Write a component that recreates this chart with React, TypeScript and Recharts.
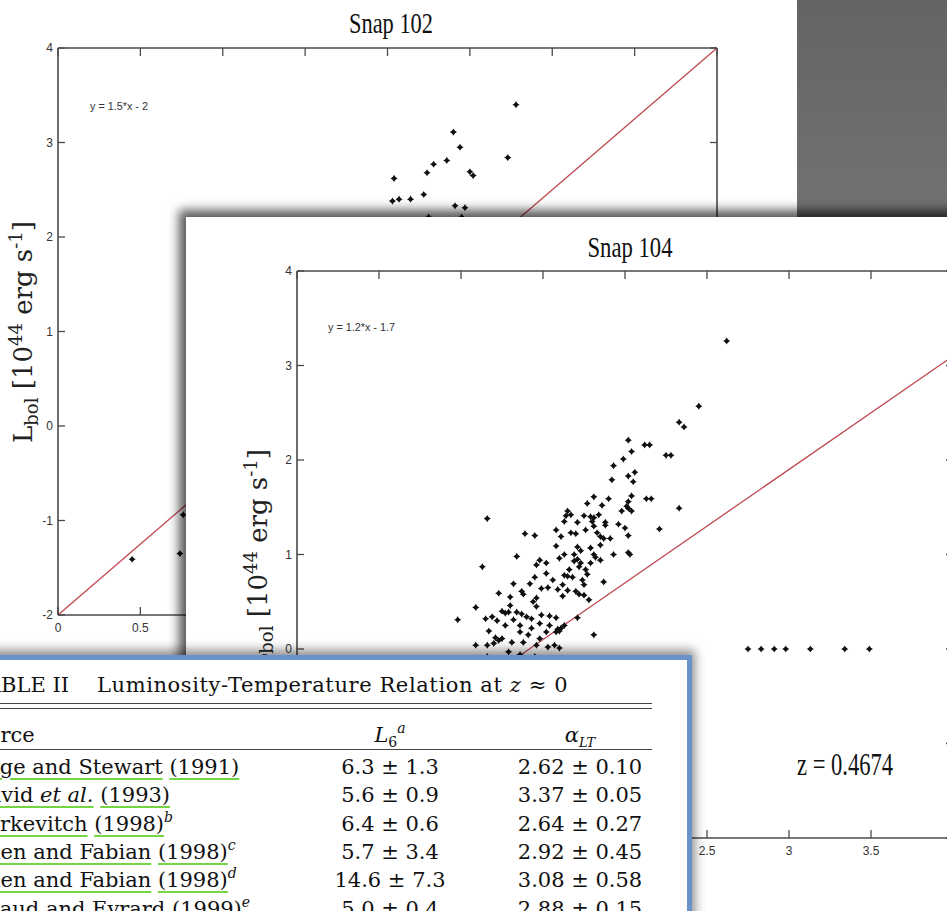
import React from 'react';
import { ScatterChart, Scatter, XAxis, YAxis, ReferenceLine } from 'recharts';

// ---------- data ----------
const xTicks = [0, 0.5, 1, 1.5, 2, 2.5, 3, 3.5, 4];
const yTicks = [-2, -1, 0, 1, 2, 3, 4];
const xDomain = [0, 4];
const yDomain = [-2, 4];

const snap102Points = [
  { x: 2.04, y: 2.62 }, { x: 2.03, y: 2.38 }, { x: 2.07, y: 2.4 }, { x: 2.14, y: 2.4 },
  { x: 2.22, y: 2.45 }, { x: 2.24, y: 2.68 }, { x: 2.28, y: 2.77 }, { x: 2.36, y: 2.81 },
  { x: 2.4, y: 3.11 }, { x: 2.44, y: 2.95 }, { x: 2.5, y: 2.69 }, { x: 2.52, y: 2.65 },
  { x: 2.41, y: 2.33 }, { x: 2.47, y: 2.31 }, { x: 2.73, y: 2.84 }, { x: 2.78, y: 3.4 },
  { x: 2.25, y: 2.21 }, { x: 2.45, y: 2.21 },
  { x: 0.45, y: -1.41 }, { x: 0.74, y: -1.35 }, { x: 0.76, y: -0.94 },
];

const snap104Points = [
  { x: 1.16, y: 1.38 }, { x: 1.13, y: 0.87 }, { x: 0.98, y: 0.31 }, { x: 1.09, y: 0.44 },
  { x: 1.39, y: 1.22 }, { x: 1.45, y: 1.2 }, { x: 1.34, y: 0.98 }, { x: 1.58, y: 1.26 },
  { x: 1.58, y: 1.09 }, { x: 1.48, y: 0.94 }, { x: 1.46, y: 0.89 }, { x: 1.52, y: 0.91 },
  { x: 1.52, y: 0.8 }, { x: 1.23, y: 0.59 }, { x: 1.32, y: 0.69 }, { x: 1.42, y: 0.69 },
  { x: 1.45, y: 0.76 }, { x: 1.37, y: 0.61 }, { x: 1.38, y: 0.58 }, { x: 1.56, y: 0.73 },
  { x: 1.49, y: 0.64 }, { x: 1.53, y: 0.65 }, { x: 1.3, y: 0.55 }, { x: 1.3, y: 0.46 },
  { x: 1.46, y: 0.54 }, { x: 1.44, y: 0.5 }, { x: 1.46, y: 0.45 }, { x: 1.25, y: 0.4 },
  { x: 1.27, y: 0.38 }, { x: 1.29, y: 0.39 }, { x: 1.15, y: 0.32 }, { x: 1.19, y: 0.34 },
  { x: 1.22, y: 0.3 }, { x: 1.34, y: 0.39 }, { x: 1.37, y: 0.37 }, { x: 1.4, y: 0.34 },
  { x: 1.43, y: 0.32 }, { x: 1.49, y: 0.36 }, { x: 1.54, y: 0.35 }, { x: 1.58, y: 0.33 },
  { x: 1.32, y: 0.31 }, { x: 1.27, y: 0.25 }, { x: 1.17, y: 0.19 }, { x: 1.21, y: 0.12 },
  { x: 1.23, y: 0.09 }, { x: 1.25, y: 0.11 }, { x: 1.2, y: 0.06 }, { x: 1.16, y: 0.04 },
  { x: 1.09, y: 0.04 }, { x: 1.36, y: 0.25 }, { x: 1.36, y: 0.18 }, { x: 1.38, y: 0.07 },
  { x: 1.41, y: 0.15 }, { x: 1.43, y: 0.22 }, { x: 1.48, y: 0.27 }, { x: 1.52, y: 0.18 },
  { x: 1.48, y: 0.11 }, { x: 1.54, y: 0.25 }, { x: 1.58, y: 0.18 }, { x: 1.29, y: -0.03 },
  { x: 1.31, y: 0.07 }, { x: 1.46, y: 0.04 }, { x: 1.53, y: 0.02 }, { x: 1.57, y: 0.04 },
  { x: 1.16, y: -0.08 }, { x: 1.27, y: -0.1 }, { x: 1.36, y: -0.06 }, { x: 1.45, y: -0.08 },
  { x: 1.55, y: -0.1 },
  { x: 2.33, y: 2.4 }, { x: 2.36, y: 2.35 }, { x: 2.02, y: 2.21 }, { x: 2.12, y: 2.16 },
  { x: 2.15, y: 2.16 }, { x: 2.04, y: 2.09 }, { x: 2.25, y: 2.05 }, { x: 2.28, y: 2.05 },
  { x: 1.99, y: 2.01 }, { x: 1.93, y: 1.94 }, { x: 2.06, y: 1.87 }, { x: 2.02, y: 1.83 },
  { x: 1.92, y: 1.79 }, { x: 2.05, y: 1.77 }, { x: 2.04, y: 1.62 }, { x: 1.9, y: 1.59 },
  { x: 1.81, y: 1.61 }, { x: 2.13, y: 1.59 }, { x: 2.16, y: 1.59 }, { x: 1.77, y: 1.54 },
  { x: 2.02, y: 1.56 }, { x: 2.01, y: 1.51 }, { x: 2.02, y: 1.49 }, { x: 2.04, y: 1.46 },
  { x: 1.86, y: 1.52 }, { x: 1.98, y: 1.46 }, { x: 2.33, y: 1.49 }, { x: 1.65, y: 1.46 },
  { x: 1.67, y: 1.42 }, { x: 1.64, y: 1.41 }, { x: 1.75, y: 1.41 }, { x: 1.79, y: 1.4 },
  { x: 1.81, y: 1.39 }, { x: 1.84, y: 1.42 }, { x: 1.63, y: 1.35 }, { x: 1.71, y: 1.34 },
  { x: 1.8, y: 1.35 }, { x: 1.81, y: 1.3 }, { x: 1.88, y: 1.34 }, { x: 1.88, y: 1.31 },
  { x: 1.96, y: 1.32 }, { x: 2.0, y: 1.28 }, { x: 2.21, y: 1.27 }, { x: 1.76, y: 1.26 },
  { x: 1.61, y: 1.19 }, { x: 1.67, y: 1.23 }, { x: 1.7, y: 1.22 }, { x: 1.83, y: 1.23 },
  { x: 1.85, y: 1.19 }, { x: 1.87, y: 1.17 }, { x: 1.91, y: 1.17 }, { x: 2.02, y: 1.2 },
  { x: 1.71, y: 1.08 }, { x: 1.73, y: 1.04 }, { x: 1.63, y: 1.0 }, { x: 1.6, y: 0.96 },
  { x: 1.79, y: 1.07 }, { x: 1.85, y: 1.1 }, { x: 1.81, y: 1.0 }, { x: 1.82, y: 0.97 },
  { x: 1.93, y: 1.0 }, { x: 2.02, y: 1.02 }, { x: 2.03, y: 1.0 }, { x: 1.69, y: 1.0 },
  { x: 1.71, y: 0.95 }, { x: 1.69, y: 0.93 }, { x: 1.72, y: 0.87 }, { x: 1.73, y: 0.91 },
  { x: 1.85, y: 0.94 }, { x: 1.79, y: 0.91 }, { x: 1.76, y: 0.84 }, { x: 1.77, y: 0.79 },
  { x: 1.66, y: 0.84 }, { x: 1.63, y: 0.78 }, { x: 1.65, y: 0.77 }, { x: 1.68, y: 0.76 },
  { x: 1.74, y: 0.73 }, { x: 1.75, y: 0.68 }, { x: 1.62, y: 0.68 }, { x: 1.59, y: 0.63 },
  { x: 1.65, y: 0.62 }, { x: 1.87, y: 0.71 }, { x: 1.62, y: 0.56 }, { x: 1.7, y: 0.61 },
  { x: 1.72, y: 0.58 }, { x: 1.75, y: 0.57 }, { x: 1.78, y: 0.52 }, { x: 1.71, y: 0.33 },
  { x: 1.63, y: 0.25 }, { x: 1.61, y: 0.22 }, { x: 1.59, y: 0.21 }, { x: 1.6, y: 0.19 },
  { x: 1.81, y: 0.15 }, { x: 1.6, y: 0.01 },
  { x: 2.62, y: 3.26 }, { x: 2.45, y: 2.57 },
  { x: 2.75, y: 0.0 }, { x: 2.83, y: 0.0 }, { x: 2.91, y: 0.0 }, { x: 2.98, y: 0.0 },
  { x: 3.13, y: 0.0 }, { x: 3.34, y: 0.0 }, { x: 3.49, y: 0.0 },
];

// fitted lines (from the printed equations y = 1.5*x - 2 and y = 1.2*x - 1.7)
const fit102 = [{ x: 0, y: -2 }, { x: 4, y: 4 }];
const fit104 = [{ x: 0, y: -1.7 }, { x: 4, y: 3.1 }];

const tableSources = ['Edge and Stewart', 'David', 'Markevitch', 'Allen and Fabian', 'Allen and Fabian', 'Arnaud and Evrard'];
const tableYears = ['(1991)', '(1993)', '(1998)', '(1998)', '(1998)', '(1999)'];
const tableNotes = ['', '', 'b', 'c', 'd', 'e'];
const tableL6 = ['6.3 ± 1.3', '5.6 ± 0.9', '6.4 ± 0.6', '5.7 ± 3.4', '14.6 ± 7.3', '5.0 ± 0.4'];
const tableAlpha = ['2.62 ± 0.10', '3.37 ± 0.05', '2.64 ± 0.27', '2.92 ± 0.45', '3.08 ± 0.58', '2.88 ± 0.15'];

// ---------- styling ----------
const AX = '#4a4a4a';
const RED = '#c04852';
const TICK_LEN = 8;
const tickFont = { fontFamily: 'Liberation Sans, Arial, sans-serif', fontSize: 12, fill: '#333' };

const BottomTick = (p: any) => (
  <g>
    <line x1={p.x} y1={p.y} x2={p.x} y2={p.y - TICK_LEN} stroke={AX} strokeWidth={1.3} />
    <text x={p.x} y={p.y + 17} textAnchor="middle" {...tickFont}>{String(p.payload.value)}</text>
  </g>
);
const TopTick = (p: any) => (
  <line x1={p.x} y1={p.y} x2={p.x} y2={p.y + TICK_LEN} stroke={AX} strokeWidth={1.3} />
);
const LeftTick = (p: any) => (
  <g>
    <line x1={p.x} y1={p.y} x2={p.x + TICK_LEN - 1} y2={p.y} stroke={AX} strokeWidth={1.3} />
    <text x={p.x - 5} y={p.y + 4} textAnchor="end" {...tickFont}>{String(p.payload.value)}</text>
  </g>
);
const RightTick = (p: any) => (
  <line x1={p.x} y1={p.y} x2={p.x - TICK_LEN + 1} y2={p.y} stroke={AX} strokeWidth={1.3} />
);

const Star = (props: any) => {
  const { cx, cy } = props;
  if (cx == null || cy == null) return <g />;
  const r = 3.6;
  const s = 1.3;
  const d = `M${cx},${cy - r}L${cx + s},${cy - s}L${cx + r},${cy}L${cx + s},${cy + s}L${cx},${cy + r}L${cx - s},${cy + s}L${cx - r},${cy}L${cx - s},${cy - s}Z`;
  return (
    <g>
      <path d={d} fill="#111" />
      <circle cx={cx} cy={cy} r={2} fill="#111" />
    </g>
  );
};
const Nothing = () => <g />;

function SnapChart({ w, h, margin, points, fit }: any) {
  const axisLine = { stroke: AX, strokeWidth: 1.6 };
  return (
    <ScatterChart width={w} height={h} margin={margin}>
      <XAxis xAxisId="b" dataKey="x" type="number" domain={xDomain} ticks={xTicks} interval={0}
        orientation="bottom" height={30} tickSize={0} tickMargin={0} tickLine={false}
        axisLine={axisLine} tick={(p: any) => <BottomTick {...p} />} allowDataOverflow />
      <XAxis xAxisId="t" dataKey="x" type="number" domain={xDomain} ticks={xTicks} interval={0}
        orientation="top" height={1} tickSize={0} tickMargin={0} tickLine={false}
        axisLine={axisLine} tick={(p: any) => <TopTick {...p} />} allowDataOverflow />
      <YAxis yAxisId="l" dataKey="y" type="number" domain={yDomain} ticks={yTicks} interval={0}
        orientation="left" width={30} tickSize={0} tickMargin={0} tickLine={false}
        axisLine={axisLine} tick={(p: any) => <LeftTick {...p} />} allowDataOverflow />
      <YAxis yAxisId="r" dataKey="y" type="number" domain={yDomain} ticks={yTicks} interval={0}
        orientation="right" width={1} tickSize={0} tickMargin={0} tickLine={false}
        axisLine={axisLine} tick={(p: any) => <RightTick {...p} />} allowDataOverflow />
      <Scatter xAxisId="t" yAxisId="r" data={fit} shape={Nothing} isAnimationActive={false} />
      <ReferenceLine xAxisId="b" yAxisId="l" segment={fit} stroke={RED} strokeWidth={1.3} ifOverflow="visible" />
      <Scatter xAxisId="b" yAxisId="l" data={points} shape={Star} isAnimationActive={false} />
    </ScatterChart>
  );
}

function YLabel({ x, y }: { x: number; y: number }) {
  return (
    <text transform={`rotate(-90 ${x} ${y})`} x={x} y={y} textAnchor="middle"
      fontFamily="DejaVu Serif, serif" fontSize={26} fill="#222">
      L<tspan dy={6} fontSize={18}>bol</tspan>
      <tspan dy={-6}> [10</tspan>
      <tspan dy={-10} fontSize={18}>44</tspan>
      <tspan dy={10}> erg s</tspan>
      <tspan dy={-10} fontSize={18}>-1</tspan>
      <tspan dy={10}>]</tspan>
    </text>
  );
}

const serifTitle = { fontFamily: 'Liberation Serif, Times New Roman, serif', fill: '#111' };
const eqFont = { fontFamily: 'Liberation Sans, Arial, sans-serif', fontSize: 11, fill: '#333' };

const tableFont: React.CSSProperties = {
  fontFamily: 'DejaVu Serif, serif', fontSize: 21, color: '#111', whiteSpace: 'nowrap', lineHeight: '28px',
};
const link: React.CSSProperties = {
  textDecorationLine: 'underline', textDecorationColor: '#74d442', textDecorationThickness: '2px',
  textUnderlineOffset: '4px',
};
const supStyle: React.CSSProperties = { fontSize: 14, fontStyle: 'italic', position: 'relative', top: -9, lineHeight: 0 };
const subStyle: React.CSSProperties = { fontSize: 14, position: 'relative', top: 5, lineHeight: 0 };
const SOURCE_LEFT = [-29, -28, -34, -28, -28, -39];

export default function App() {
  return (
    <div style={{ position: 'absolute', left: 0, top: 0, width: 947, height: 911, overflow: 'hidden', background: '#fff' }}>
      {/* slide background block */}
      <div style={{ position: 'absolute', left: 797, top: 0, width: 150, height: 217, background: 'linear-gradient(#646464, #727272)', zIndex: 0 }} />

      {/* Snap 102 */}
      <div style={{ position: 'absolute', left: 0, top: 0, zIndex: 1 }}>
        <SnapChart w={790} h={680} margin={{ top: 47, right: 72, left: 28, bottom: 35 }} points={snap102Points} fit={fit102} />
        <svg width={790} height={680} style={{ position: 'absolute', left: 0, top: 0, pointerEvents: 'none' }}>
          <text x={391} y={33} textAnchor="middle" fontSize={29} textLength={84} lengthAdjust="spacingAndGlyphs" {...serifTitle}>Snap 102</text>
          <text x={90} y={110} textLength={58} lengthAdjust="spacingAndGlyphs" {...eqFont}>y = 1.5*x - 2</text>
          <YLabel x={32} y={332} />
        </svg>
      </div>

      {/* Snap 104 */}
      <div style={{ position: 'absolute', left: 186, top: 217, width: 820, height: 720, background: '#fff', zIndex: 2, boxShadow: '-4px -4px 10px 3px rgba(0,0,0,0.65)' }}>
        <SnapChart w={800} h={700} margin={{ top: 53, right: 32, left: 81, bottom: 49 }} points={snap104Points} fit={fit104} />
        <svg width={800} height={700} style={{ position: 'absolute', left: 0, top: 0, pointerEvents: 'none' }}>
          <text x={444} y={257 - 217} textAnchor="middle" fontSize={29} textLength={85} lengthAdjust="spacingAndGlyphs" {...serifTitle}>Snap 104</text>
          <text x={142} y={114} textLength={67} lengthAdjust="spacingAndGlyphs" {...eqFont}>y = 1.2*x - 1.7</text>
          <text x={659} y={558} textAnchor="middle" fontSize={31} textLength={96} lengthAdjust="spacingAndGlyphs" {...serifTitle}>z = 0.4674</text>
          <YLabel x={81} y={343} />
        </svg>
      </div>

      {/* Table */}
      <div style={{ position: 'absolute', left: -10, top: 655, width: 692, height: 300, background: '#fff', border: '5px solid #6a92c8', zIndex: 3, boxShadow: '0 -2px 10px 3px rgba(0,0,0,0.45)' }} />
      <div style={{ position: 'absolute', left: 0, top: 0, width: 947, height: 911, zIndex: 4, pointerEvents: 'none' }}>
        <div style={{ ...tableFont, position: 'absolute', left: -27, top: 671 }}>
          TABLE II<span style={{ marginLeft: 28, letterSpacing: 0.6 }}>Luminosity-Temperature Relation at <i>z</i> ≈ 0</span>
        </div>
        <div style={{ position: 'absolute', left: 0, top: 703, width: 652, height: 0, borderTop: '1.3px solid #444' }} />
        <div style={{ position: 'absolute', left: 0, top: 708, width: 652, height: 0, borderTop: '1.3px solid #444' }} />
        <div style={{ ...tableFont, position: 'absolute', left: -40, top: 721 }}>Source</div>
        <div style={{ ...tableFont, position: 'absolute', left: 318, width: 144, textAlign: 'center', top: 721 }}>
          <i>L</i><span style={subStyle}>6</span><span style={supStyle}>a</span>
        </div>
        <div style={{ ...tableFont, position: 'absolute', left: 508, width: 144, textAlign: 'center', top: 721 }}>
          <i>α</i><span style={{ ...subStyle, fontSize: 13, fontStyle: 'italic' }}>LT</span>
        </div>
        <div style={{ position: 'absolute', left: 0, top: 749, width: 652, height: 0, borderTop: '1.3px solid #444' }} />
        {tableSources.map((src, i) => {
          const top = 753 + i * 28.3;
          return (
            <React.Fragment key={i}>
              <div style={{ ...tableFont, position: 'absolute', left: SOURCE_LEFT[i], top }}>
                {src === 'David' ? (
                  <span style={link}>David <i>et al.</i></span>
                ) : (
                  <span style={link}>{src}</span>
                )}{' '}
                <span style={link}>{tableYears[i]}</span>
                {tableNotes[i] ? <span style={supStyle}>{tableNotes[i]}</span> : null}
              </div>
              <div style={{ ...tableFont, position: 'absolute', left: 318, width: 144, textAlign: 'center', top }}>{tableL6[i]}</div>
              <div style={{ ...tableFont, position: 'absolute', left: 508, width: 144, textAlign: 'center', top }}>{tableAlpha[i]}</div>
            </React.Fragment>
          );
        })}
      </div>
    </div>
  );
}
